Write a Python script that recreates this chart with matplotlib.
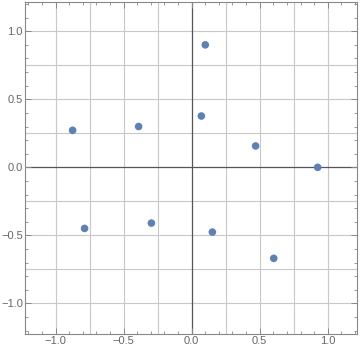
import matplotlib
matplotlib.use("Agg")
import matplotlib.pyplot as plt
import numpy as np
from matplotlib.ticker import MultipleLocator

plt.rcParams['font.family'] = ['Liberation Sans', 'DejaVu Sans']

# point coordinates
xs = [-0.875, -0.39, 0.10, 0.071, 0.47, 0.926, -0.787, -0.296, 0.152, 0.603]
ys = [0.272, 0.30, 0.90, 0.377, 0.157, 0.0, -0.449, -0.41, -0.476, -0.669]
tick_vals = [-1.0, -0.5, 0.0, 0.5, 1.0]
tick_text = ["\u22121.0", "\u22120.5", "0.0", "0.5", "1.0"]

fig = plt.figure(figsize=(3.6, 3.53), dpi=100)
ax = fig.add_axes([25 / 360, 19 / 353, 332 / 360, 332 / 353])

ax.set_xlim(-1.225, 1.215)
ax.set_ylim(-1.225, 1.215)

for v in np.arange(-1.0, 1.01, 0.25):
    if abs(v) > 1e-9:
        ax.axvline(v, color="#c8c8c8", lw=0.8, zorder=0)
        ax.axhline(v, color="#c8c8c8", lw=0.8, zorder=0)
ax.axvline(0, color="#555555", lw=0.9, zorder=1)
ax.axhline(0, color="#555555", lw=0.9, zorder=1)

ax.scatter(xs, ys, s=30, color="#5e81b5", edgecolors="none", zorder=3)

ax.set_xticks(tick_vals)
ax.set_yticks(tick_vals)
ax.set_xticklabels(tick_text)
ax.set_yticklabels(tick_text)
ax.xaxis.set_minor_locator(MultipleLocator(0.1))
ax.yaxis.set_minor_locator(MultipleLocator(0.1))
ax.tick_params(which="both", direction="in", top=True, right=True,
               color="#888888", labelcolor="#666666", labelsize=8)
ax.tick_params(which="major", length=4, width=0.7, pad=1.5)
ax.tick_params(which="minor", length=2, width=0.6)
for s in ax.spines.values():
    s.set_color("#888888")
    s.set_linewidth(0.8)

fig.savefig("out.png", dpi=100)
